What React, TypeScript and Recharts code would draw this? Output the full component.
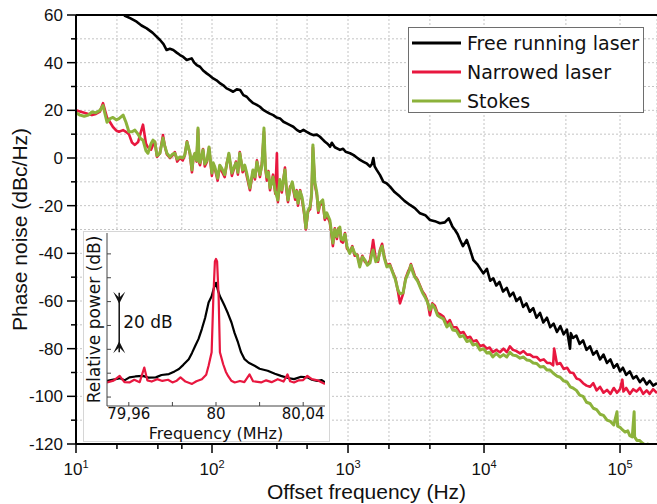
import React from 'react';
import { LineChart, Line, XAxis, YAxis, CartesianGrid, ReferenceLine, Label } from 'recharts';

// main plot: offset frequency (Hz) vs phase noise (dBc/Hz)
const freeRunning: [number, number][] = [
  [20.4, 62.5], [22.9, 59.7], [25.2, 58.6], [27.9, 57.2], [30.3, 55.6], [33.1, 54.4], [36.5, 52.6], [41.5, 49.5],
  [44, 47.8], [46.4, 45.3], [49, 45.8], [51.9, 45.3], [55, 44.2], [58.2, 43.2], [61.5, 42.4], [65.2, 41.1],
  [70.9, 41.8], [74, 40], [77.2, 39], [81.6, 38.3], [86, 36.7], [91.4, 35.5], [96, 34.6], [102, 33.4],
  [108, 32.6], [115, 31.3], [121, 30.5], [128, 29.2], [135, 28.6], [143, 27.8], [152, 28.8], [161, 28.5],
  [170, 26.4], [180, 25.7], [190, 24.2], [201, 23], [212, 22.4], [225, 21.5], [238, 20.2], [252, 19.4],
  [266, 18.6], [282, 18], [298, 17], [316, 16.6], [335, 15.2], [354, 14.5], [375, 13.8], [396, 13.1],
  [420, 11.8], [444, 11], [470, 11.8], [497, 11], [525, 10.2], [556, 9.6], [590, 9.8], [622, 8.9],
  [650, 7.8], [677, 6.8], [710, 5.9], [738, 4.7], [760, 6.4], [800, 4.5], [873, 3.4], [920, 3.9],
  [960, 2.6], [1035, 2], [1100, 1.2], [1160, 0.2], [1225, -0.8], [1300, -1.6], [1380, -2.4], [1452, -3.6],
  [1500, -2.5], [1535, 0], [1570, -3.5], [1625, -5], [1720, -7.2], [1820, -10], [1920, -10.6], [2037, -12],
  [2200, -14.3], [2411, -16.2], [2600, -18], [2856, -19.7], [3100, -21], [3382, -23.2], [3700, -24], [4006, -26],
  [4350, -26.5], [4745, -27.4], [5150, -27], [5500, -25.3], [5623, -26.5], [5850, -28.7], [6120, -30.2], [6400, -32],
  [6666, -34.4], [7000, -37], [7464, -34.4], [7800, -37.5], [8345, -42.8], [8900, -44.5], [9886, -48.4], [10500, -46.5],
  [11100, -51.5], [11700, -50.5], [12300, -53.5], [13000, -52], [13800, -56], [14700, -54.5], [15500, -58], [16400, -56.5],
  [17300, -60], [18400, -58.5], [19400, -62.5], [20500, -61], [21700, -64.5], [23000, -63], [24300, -67], [25800, -65],
  [27300, -69], [29000, -67], [30700, -71], [32500, -69.5], [34400, -73], [36400, -70.5], [38500, -74], [40700, -72],
  [42900, -80], [43500, -73.5], [45100, -75.5], [47700, -74.5], [50500, -78], [53500, -76.5], [56700, -80.5], [60100, -79],
  [63500, -82.5], [67300, -81], [71300, -84.5], [75600, -82.5], [80200, -86], [85000, -84.5], [90000, -88], [95200, -86.5],
  [100000, -89.5], [105000, -88], [111000, -91], [118000, -89.5], [125000, -92.5], [132000, -91.5], [140000, -94], [148000, -92.5],
  [157000, -95], [165000, -93.5], [175000, -95.5], [187000, -94.5],
];

const narrowed: [number, number][] = [
  [10, 20], [10.7, 19.5], [11.5, 19], [12.3, 18.5], [13.1, 18], [14, 18.5], [15, 19.5], [15.8, 23],
  [16.9, 17], [17.8, 15], [18.7, 13], [19.8, 11.5], [20.7, 11], [22.2, 11.7], [23.3, 11], [24.5, 10],
  [25.8, 6.5], [27.1, 5.5], [28.6, 6.7], [30, 11], [31.1, 14], [32.7, 6], [33.8, 4.5], [35.6, 3.5],
  [36.8, 5.5], [38, 6.8], [39.4, 0.5], [41.4, 2], [43.6, 9.6], [45, 5], [46.6, 1.5], [49.1, 0],
  [51, 1], [53.3, 2.5], [55.5, -1.5], [58.1, 0], [61, -1], [63, 1], [65.5, 7], [68.9, 1.5],
  [71.2, -6], [73, 0], [75, 2], [77, -1.5], [78.9, 12], [80.5, -2], [81.6, -3], [85.9, 3.8],
  [88.5, -3.5], [91.9, -1.5], [95.1, 4.2], [99.8, -7.5], [102, -2.5], [105, -4.5], [110, -9.5], [114, -3.5],
  [118, -5.5], [124, -8], [128, -2.5], [133, 1.5], [140, -7.5], [145, -4.5], [150, -1.5], [155, -7],
  [160, 2.5], [168, -6], [174, -3.5], [180, -7.5], [190, -13.5], [200, -5.5], [207, -9], [214, -1],
  [225, -8], [233, -2], [241, 11], [247, -4.5], [253, -9.5], [260, -5.5], [267, -13.5], [281, -7],
  [292, -15], [300, 2], [305, -18.5], [315, -9.5], [326, -14.5], [344, -4], [352, -13], [362, -18.5],
  [375, -12], [389, -11], [409, -17.5], [420, -13.5], [429, -20], [445, -13.5], [459, -17.5], [475, -23],
  [490, -30], [508, -22.5], [526, -21.5], [540, -15.5], [552, 4.5], [570, -11], [590, -15.5], [605, -23],
  [619, -20], [652, -18.5], [675, -26], [698, -24], [735, -27], [755, -32], [774, -37], [800, -29.5],
  [828, -34], [850, -29.5], [871, -30], [890, -35], [917, -35.5], [950, -31.5], [982, -38], [1030, -39.5],
  [1075, -37], [1120, -41], [1170, -40.5], [1220, -45], [1275, -41], [1330, -43.5], [1390, -44.5], [1450, -43],
  [1500, -38], [1530, -34.4], [1600, -42.5], [1660, -43.5], [1720, -38.5], [1780, -36], [1850, -41.5], [1930, -45],
  [2030, -44.5], [2140, -48], [2230, -50.5], [2330, -56], [2410, -61], [2540, -57], [2650, -50.5], [2770, -47.5],
  [2830, -46.5], [2900, -44.5], [3000, -47], [3100, -49.5], [3240, -51], [3380, -53.5], [3530, -56], [3680, -57.5],
  [3840, -60], [4000, -66], [4170, -61], [4350, -62], [4550, -65], [4740, -65.5], [5030, -66.5], [5330, -69.5],
  [5600, -68], [5900, -71], [6270, -71], [6650, -73.5], [7050, -73], [7480, -75.5], [7900, -75], [8290, -77],
  [8800, -76.5], [9340, -79], [9900, -78.5], [10500, -80], [11000, -79.5], [11600, -81.5], [12300, -80.5], [13100, -81.5],
  [13900, -80], [14700, -81.5], [15500, -79], [16300, -80.5], [17300, -81], [18400, -82], [19500, -81], [20700, -82.5],
  [21800, -82.5], [23000, -83.5], [24400, -83.5], [25900, -85], [27500, -84.5], [29100, -86], [30600, -86], [32200, -87],
  [32800, -80], [34400, -86.5], [36300, -86], [38500, -88.5], [40800, -88], [43000, -90], [45300, -90.2], [47800, -92.5],
  [50500, -93], [53500, -94.5], [56700, -95.5], [60100, -96], [63600, -94.5], [67300, -97.5], [71300, -96], [75600, -98.5],
  [80200, -97.3], [85000, -99], [90000, -96.5], [95000, -98.5], [100000, -97], [104000, -93], [106000, -98], [111000, -96.5],
  [118000, -99], [125000, -97], [132000, -98], [140000, -96.5], [148000, -99], [157000, -97.5], [165000, -99], [175000, -97],
  [187000, -98.6],
];

const stokes: [number, number][] = [
  [10, 19], [10.7, 18], [11.5, 17.5], [12.3, 18], [13.1, 19.3], [14, 19], [15, 20], [15.8, 22],
  [16.9, 15], [17.8, 16.5], [18.7, 17], [19.8, 16], [20.7, 16.5], [22.2, 18], [23.3, 15], [24.5, 11],
  [25.8, 11], [27.1, 11.7], [28.6, 10], [30, 8], [31.1, 7.5], [32.7, 3], [33.8, 2], [35.6, 6],
  [36.8, 7.5], [38, 6.8], [39.4, 1], [41.4, 2], [43.6, 8.4], [45, 5], [46.6, 2], [49.1, 0.4],
  [51, 1.5], [53.3, 2], [55.5, -0.5], [58.1, 0.4], [61, 0], [63, 1.2], [65.5, 6.7], [68.9, 2],
  [71.2, -5], [73, 0.5], [75, 2], [77, -1], [78.9, 12.6], [80.5, -1.5], [81.6, -2], [85.9, 3.4],
  [88.5, -2.5], [91.9, -1], [95.1, 4.6], [99.8, -6.3], [102, -2], [105, -3.8], [110, -8.5], [114, -3],
  [118, -4.3], [124, -7], [128, -3], [133, 2], [140, -6.3], [145, -4], [150, -2], [155, -6],
  [160, 2], [168, -5], [174, -3], [180, -6.3], [190, -12.6], [200, -5], [207, -8], [214, -1.7],
  [225, -7], [233, -3], [241, 12.6], [247, -4], [253, -8], [260, -6], [267, -12.6], [281, -8],
  [292, -14], [305, -17.6], [315, -9], [326, -13.4], [344, -5], [352, -12], [362, -17.6], [375, -13],
  [389, -10], [409, -16.4], [420, -14], [429, -19], [445, -14], [459, -16.4], [475, -22], [490, -29.4],
  [508, -22], [526, -20.5], [540, -15], [552, 5.5], [570, -10], [590, -14.7], [605, -22], [619, -19],
  [652, -17.6], [675, -25], [698, -23], [735, -26], [755, -31], [774, -35.7], [800, -30], [828, -33],
  [850, -30], [871, -29], [890, -34], [917, -34.4], [950, -32], [982, -37], [1030, -40], [1075, -37.5],
  [1120, -40], [1170, -41], [1220, -45.7], [1275, -41.5], [1330, -42.8], [1390, -45], [1450, -44], [1500, -40],
  [1530, -38.6], [1600, -43.5], [1660, -42.8], [1720, -39], [1780, -37], [1850, -42], [1930, -45.7], [2030, -45],
  [2140, -48.3], [2230, -51], [2330, -55.4], [2410, -57], [2540, -56.6], [2650, -51], [2770, -48.3], [2830, -47],
  [2900, -45], [3000, -48], [3100, -50], [3240, -51.5], [3380, -54], [3530, -56.5], [3680, -58.3], [3840, -60.5],
  [4000, -63.8], [4170, -61.5], [4350, -63], [4550, -66], [4740, -66.7], [5030, -67.5], [5330, -70.9], [5600, -69.5],
  [5900, -72.2], [6270, -72.5], [6650, -75], [7050, -74.5], [7480, -77], [7900, -76.5], [8290, -78.5], [8800, -78],
  [9340, -80.6], [9900, -80], [10500, -81.8], [11000, -81.5], [11600, -83.5], [12300, -82], [13100, -83.5], [13900, -82.5],
  [14700, -83.5], [15500, -81.5], [16300, -82.7], [17300, -83], [18400, -84], [19500, -83.5], [20700, -84.8], [21800, -85],
  [23000, -86], [24400, -86.2], [25900, -87.7], [27500, -87.5], [29100, -89], [30600, -89], [32200, -90.2], [34400, -91.5],
  [36300, -92], [38500, -93.5], [40800, -94], [43000, -96], [45300, -96.6], [47800, -97.5], [50500, -99.5], [53500, -100],
  [56700, -102.5], [60100, -103], [63600, -105], [67300, -105.6], [71300, -107.5], [75600, -108], [80200, -110], [85000, -110.5],
  [90000, -112], [95000, -106.5], [96000, -112.5], [100000, -113], [104000, -114], [109000, -115], [114000, -114.5], [118000, -116.5],
  [123000, -117], [127000, -106.5], [128000, -117], [133000, -118.5], [139000, -118.5], [146000, -119.6], [153000, -120.5], [160000, -120],
  [173000, -121], [187000, -122],
];

const xTicks = [
  10, 20, 30, 40, 50, 60, 70, 80, 90,
  100, 200, 300, 400, 500, 600, 700, 800, 900,
  1000, 2000, 3000, 4000, 5000, 6000, 7000, 8000, 9000,
  10000, 20000, 30000, 40000, 50000, 60000, 70000, 80000, 90000,
  100000,
];
const yTicks = [-120, -110, -100, -90, -80, -70, -60, -50, -40, -30, -20, -10, 0, 10, 20, 30, 40, 50, 60];

// inset: frequency (MHz) vs relative power (dB)
const insetFree: [number, number][] = [
  [79.95, 5.4], [79.9535, 5.9], [79.956, 6.3], [79.958, 5.6], [79.9603, 6.6], [79.963, 6.9], [79.9664, 7.1], [79.969, 6.5],
  [79.9724, 6.6], [79.975, 7.4], [79.9784, 7.7], [79.981, 8.6], [79.983, 9.4], [79.985, 10.8], [79.9875, 12.7], [79.989, 14.8],
  [79.9905, 17.2], [79.992, 19.5], [79.9935, 22.8], [79.995, 26.5], [79.9966, 31.7], [79.998, 33.8], [79.999, 36.5], [80, 38.3],
  [80.001, 35.5], [80.0018, 33.8], [80.003, 32], [80.004, 30.5], [80.0055, 28], [80.0071, 25], [80.0085, 21.5], [80.0101, 18.3],
  [80.0115, 15], [80.0131, 12.7], [80.015, 11.5], [80.0177, 10.5], [80.02, 9.5], [80.0237, 8.8], [80.027, 7.8], [80.0298, 7.1],
  [80.033, 6.4], [80.0358, 6], [80.039, 6.8], [80.0419, 6.6], [80.044, 5.8], [80.0464, 5.4], [80.0485, 5.7], [80.05, 4.9],
];

const insetNarrowed: [number, number][] = [
  [79.95, 4.9], [79.953, 5.5], [79.9558, 7.1], [79.958, 5], [79.9603, 4.9], [79.9625, 5.8], [79.965, 5], [79.9671, 9.9],
  [79.9685, 5.6], [79.9705, 5.2], [79.973, 6], [79.9754, 5.4], [79.978, 5.8], [79.98, 4.9], [79.982, 5.5], [79.9837, 6.6],
  [79.986, 5.2], [79.989, 4.4], [79.991, 5.3], [79.9935, 6], [79.9955, 7.5], [79.9966, 10.5], [79.998, 15], [79.9988, 33.8],
  [79.9995, 45.5], [80, 46.3], [80.0005, 45.5], [80.0012, 33.8], [80.0018, 15], [80.0033, 11], [80.0045, 8.5], [80.0056, 7],
  [80.007, 5.5], [80.0086, 4.9], [80.011, 5.4], [80.013, 5], [80.0154, 7.6], [80.017, 5.3], [80.0207, 4.9], [80.023, 5.6],
  [80.0255, 5], [80.0283, 6], [80.031, 5.2], [80.0328, 7.6], [80.034, 5.3], [80.0358, 4.9], [80.038, 5.6], [80.04, 5.7],
  [80.0419, 7.1], [80.044, 6], [80.047, 5.5], [80.05, 4.4],
];

const insetXTicks = [79.96, 79.97, 79.98, 79.99, 80, 80.01, 80.02, 80.03, 80.04];
const insetXLabelValues = [79.96, 80, 80.04];
const insetXLabels = ['79,96', '80', '80,04'];
const insetYTicks = [0, 8, 16, 24, 32, 40, 48];
const scaleBar = { x: 79.9556, from: 35, to: 15, text: '20 dB' };

const legendItems = [
  { name: 'Free running laser', color: '#000000' },
  { name: 'Narrowed laser', color: '#e8173f' },
  { name: 'Stokes', color: '#8cb23b' },
];

const ARIAL = '"Liberation Sans", Arial, sans-serif';
const DEJAVU = '"DejaVu Sans", sans-serif';

const toPts = (arr: [number, number][]) => arr.map(([f, v]) => ({ f, v }));

const MainXTick = (props: any) => {
  const { x, y, payload } = props;
  const lg = Math.log10(payload.value);
  const exp = Math.round(lg);
  const major = Math.abs(lg - exp) < 1e-6;
  return (
    <g>
      <line x1={x} x2={x} y1={y} y2={y + (major ? 9 : 5)} stroke="#000" strokeWidth={1.5} />
      {major && (
        <text x={x} y={y + 31} textAnchor="middle" fontSize={17} fontFamily={ARIAL} fill="#111">
          10<tspan dy={-7} fontSize={11}>{exp}</tspan>
        </text>
      )}
    </g>
  );
};

const MainYTick = (props: any) => {
  const { x, y, payload } = props;
  const major = payload.value % 20 === 0;
  return (
    <g>
      <line x1={x - (major ? 9 : 5)} x2={x} y1={y} y2={y} stroke="#000" strokeWidth={1.5} />
      {major && (
        <text x={x - 13} y={y} dy="0.36em" textAnchor="end" fontSize={17} fontFamily={ARIAL} fill="#111">
          {payload.value}
        </text>
      )}
    </g>
  );
};

const InsetBottomTick = (props: any) => {
  const { x, y, payload } = props;
  const idx = insetXLabelValues.findIndex((v) => Math.abs(v - payload.value) < 1e-6);
  return (
    <g>
      <line x1={x} x2={x} y1={y} y2={y - 4} stroke="#444" strokeWidth={1} />
      {idx >= 0 && (
        <text x={x} y={y + 13} textAnchor="middle" fontSize={15} fontFamily={DEJAVU} fill="#111">
          {insetXLabels[idx]}
        </text>
      )}
    </g>
  );
};

const InsetTopTick = (props: any) => (
  <line x1={props.x} x2={props.x} y1={props.y} y2={props.y + 4} stroke="#444" strokeWidth={1} />
);
const InsetLeftTick = (props: any) => (
  <line x1={props.x} x2={props.x + 4} y1={props.y} y2={props.y} stroke="#444" strokeWidth={1} />
);
const InsetRightTick = (props: any) => (
  <line x1={props.x} x2={props.x - 4} y1={props.y} y2={props.y} stroke="#444" strokeWidth={1} />
);

const ScaleBarShape = (p: any) => {
  const { x1, y1, y2 } = p;
  const top = Math.min(y1, y2);
  const bot = Math.max(y1, y2);
  return (
    <g>
      <line x1={x1} x2={x1} y1={top} y2={bot} stroke="#111" strokeWidth={1.5} />
      <path d={`M${x1 - 6},${top - 1} L${x1},${top + 11} L${x1 + 6},${top - 1} L${x1},${top + 5} Z`} fill="#111" />
      <path d={`M${x1 - 6},${bot + 1} L${x1},${bot - 11} L${x1 + 6},${bot + 1} L${x1},${bot - 5} Z`} fill="#111" />
      <text x={x1 + 4} y={(top + bot) / 2 + 6} fontSize={17} fontFamily={DEJAVU} fill="#111">
        {scaleBar.text}
      </text>
    </g>
  );
};

function Inset() {
  return (
    <LineChart width={247} height={211} margin={{ top: 2, right: 5, bottom: 0, left: 0 }}>
      <XAxis
        dataKey="m"
        type="number"
        domain={[79.95, 80.05]}
        ticks={insetXTicks}
        allowDataOverflow
        height={36}
        tickSize={0}
        tickMargin={0}
        tickLine={false}
        tick={InsetBottomTick}
        axisLine={{ stroke: '#444', strokeWidth: 1 }}
      >
        <Label value="Frequency (MHz)" position="insideBottom" offset={3} fontSize={16} fontFamily={DEJAVU} fill="#111" />
      </XAxis>
      <XAxis
        xAxisId="top"
        orientation="top"
        dataKey="m"
        type="number"
        domain={[79.95, 80.05]}
        ticks={insetXTicks}
        allowDataOverflow
        height={0}
        tickSize={0}
        tickMargin={0}
        tickLine={false}
        tick={InsetTopTick}
        axisLine={{ stroke: '#444', strokeWidth: 1 }}
      />
      <YAxis
        type="number"
        domain={[-3, 55]}
        ticks={insetYTicks}
        allowDataOverflow
        width={24}
        tickSize={0}
        tickMargin={0}
        tickLine={false}
        tick={InsetLeftTick}
        axisLine={{ stroke: '#444', strokeWidth: 1 }}
      >
        <Label
          value="Relative power (dB)"
          angle={-90}
          position="insideLeft"
          offset={11}
          fontSize={17}
          fontFamily={DEJAVU}
          fill="#111"
          style={{ textAnchor: 'middle' }}
        />
      </YAxis>
      <YAxis
        yAxisId="right"
        orientation="right"
        type="number"
        domain={[-3, 55]}
        ticks={insetYTicks}
        allowDataOverflow
        width={0}
        tickSize={0}
        tickMargin={0}
        tickLine={false}
        tick={InsetRightTick}
        axisLine={{ stroke: '#444', strokeWidth: 1 }}
      />
      <Line
        data={insetFree.map(([m, v]) => ({ m, v }))}
        dataKey="v"
        stroke="#000"
        strokeWidth={2.2}
        dot={false}
        isAnimationActive={false}
        strokeLinejoin="round"
      />
      <Line
        data={insetNarrowed.map(([m, v]) => ({ m, v }))}
        dataKey="v"
        stroke="#e8173f"
        strokeWidth={2.2}
        dot={false}
        isAnimationActive={false}
        strokeLinejoin="round"
      />
      <ReferenceLine
        segment={[
          { x: scaleBar.x, y: scaleBar.from },
          { x: scaleBar.x, y: scaleBar.to },
        ]}
        shape={ScaleBarShape}
      />
    </LineChart>
  );
}

export default function App() {
  return (
    <div style={{ position: 'absolute', left: 0, top: 0, width: 657, height: 504, background: '#fff' }}>
      <LineChart width={657} height={504} margin={{ top: 15, right: 0, bottom: 0, left: 0 }}>
        <CartesianGrid stroke="#c4c4c4" strokeDasharray="2 2" />
        <XAxis
          dataKey="f"
          type="number"
          scale="log"
          domain={[10, 187000]}
          ticks={xTicks}
          allowDataOverflow
          height={60}
          tickSize={0}
          tickMargin={0}
          tickLine={false}
          tick={MainXTick}
          axisLine={{ stroke: '#000', strokeWidth: 2 }}
        >
          <Label value="Offset frequency (Hz)" position="insideBottom" offset={5} fontSize={21} fontFamily={ARIAL} fill="#111" />
        </XAxis>
        <YAxis
          type="number"
          domain={[-120, 60]}
          ticks={yTicks}
          allowDataOverflow
          width={76}
          tickSize={0}
          tickMargin={0}
          tickLine={false}
          tick={MainYTick}
          axisLine={{ stroke: '#000', strokeWidth: 2 }}
        >
          <Label
            value="Phase noise (dBc/Hz)"
            angle={-90}
            position="insideLeft"
            offset={20}
            fontSize={21}
            fontFamily={ARIAL}
            fill="#111"
            style={{ textAnchor: 'middle' }}
          />
        </YAxis>
        <ReferenceLine y={60} stroke="#000" strokeWidth={2} />
        <Line data={toPts(freeRunning)} dataKey="v" stroke="#000" strokeWidth={2.6} dot={false} isAnimationActive={false} strokeLinejoin="round" />
        <Line data={toPts(narrowed)} dataKey="v" stroke="#e8173f" strokeWidth={2.6} dot={false} isAnimationActive={false} strokeLinejoin="round" />
        <Line data={toPts(stokes)} dataKey="v" stroke="#8cb23b" strokeWidth={3} dot={false} isAnimationActive={false} strokeLinejoin="round" />
      </LineChart>

      <div
        style={{
          position: 'absolute',
          left: 408,
          top: 27,
          width: 236,
          height: 86,
          boxSizing: 'border-box',
          border: '1px solid #6e6e6e',
          background: '#fff',
          fontFamily: DEJAVU,
          fontSize: 19,
          color: '#111',
        }}
      >
        {legendItems.map((item, i) => (
          <div key={item.name} style={{ position: 'absolute', left: 0, top: 2 + i * 29, height: 26, display: 'flex', alignItems: 'center' }}>
            <svg width={58} height={26} style={{ display: 'block' }}>
              <line x1={3} x2={52} y1={13} y2={13} stroke={item.color} strokeWidth={3} />
            </svg>
            <span style={{ whiteSpace: 'nowrap', lineHeight: '26px' }}>{item.name}</span>
          </div>
        ))}
      </div>

      <div
        style={{
          position: 'absolute',
          left: 83,
          top: 231,
          width: 247,
          height: 211,
          boxSizing: 'border-box',
          border: '1px solid #d6d6d6',
          background: '#fff',
        }}
      >
        <div style={{ position: 'absolute', left: -1, top: -1 }}>
          <Inset />
        </div>
      </div>
    </div>
  );
}
